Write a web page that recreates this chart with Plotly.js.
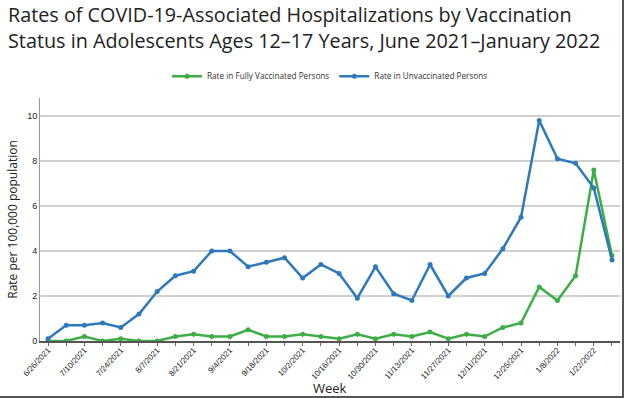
<!DOCTYPE html>
<html><head><meta charset="utf-8">
<script src="https://cdn.plot.ly/plotly-3.0.1.min.js"></script>
<style>
html,body{margin:0;padding:0;background:#fff;}
#wrap{position:relative;width:624px;height:398px;box-sizing:border-box;border-right:2px solid #555;border-bottom:2px solid #555;overflow:hidden;}
#chart{width:622px;height:396px;}
</style></head>
<body><div id="wrap"><div id="chart"></div></div>
<script>
const weeks = ['2021-06-26','2021-07-03','2021-07-10','2021-07-17','2021-07-24','2021-07-31','2021-08-07','2021-08-14','2021-08-21','2021-08-28','2021-09-04','2021-09-11','2021-09-18','2021-09-25','2021-10-02','2021-10-09','2021-10-16','2021-10-23','2021-10-30','2021-11-06','2021-11-13','2021-11-20','2021-11-27','2021-12-04','2021-12-11','2021-12-18','2021-12-25','2022-01-01','2022-01-08','2022-01-15','2022-01-22','2022-01-29'];
const vaccinated = [0,0,0.2,0,0.1,0,0,0.2,0.3,0.2,0.2,0.5,0.2,0.2,0.3,0.2,0.1,0.3,0.1,0.3,0.2,0.4,0.1,0.3,0.2,0.6,0.8,2.4,1.8,2.9,7.6,3.8];
const unvaccinated = [0.1,0.7,0.7,0.8,0.6,1.2,2.2,2.9,3.1,4.0,4.0,3.3,3.5,3.7,2.8,3.4,3.0,1.9,3.3,2.1,1.8,3.4,2.0,2.8,3.0,4.1,5.5,9.8,8.1,7.9,6.8,3.6];
const seriesNames = ['Rate in Fully Vaccinated Persons','Rate in Unvaccinated Persons'];
const yTicks = [0,2,4,6,8,10];

const green = '#3DAE45', blue = '#2D79BC';
const traces = [
  {x: weeks, y: vaccinated, name: seriesNames[0], type:'scatter', mode:'lines+markers',
   line:{color:green,width:2.5}, marker:{color:green,size:5}},
  {x: weeks, y: unvaccinated, name: seriesNames[1], type:'scatter', mode:'lines+markers',
   line:{color:blue,width:2.5}, marker:{color:blue,size:5}}
];
const DAY = 86400000;
const layout = {
  width:622, height:396,
  margin:{l:40,r:2,t:98,b:55},
  paper_bgcolor:'#fff', plot_bgcolor:'#fff',
  title:{text:'Rates of COVID-19-Associated Hospitalizations by Vaccination<br>Status in Adolescents Ages 12–17 Years, June 2021–January 2022',
    x:8/622, xanchor:'left', xref:'container', y:1-22/396, yanchor:'top', yref:'container',
    font:{family:'Open Sans',size:19.8,color:'#222'}},
  showlegend:true,
  legend:{orientation:'h', x:0.5, xanchor:'center', y:1.09, yanchor:'middle',
    font:{family:'Open Sans',size:8.2,color:'#333'}, tracegroupgap:0},
  xaxis:{type:'date', range:['2021-06-22 22:00','2022-02-01 02:00'],
    tick0:'2021-06-26', dtick:14*DAY, tickformat:'%-m/%-d/%Y', tickangle:-47,
    tickfont:{family:'Arial',size:8,color:'#222'}, ticklabelstandoff:-3,
    ticks:'outside', ticklen:3, tickcolor:'#666',
    minor:{dtick:7*DAY, tick0:'2021-06-26', ticks:'outside', ticklen:3, tickcolor:'#666'},
    showline:true, linecolor:'#555', linewidth:1.5, showgrid:false, zeroline:false},
  yaxis:{range:[0,10.8], tickvals:yTicks, ticktext:yTicks.map(String),
    tickfont:{family:'Arial',size:9,color:'#222'},
    showline:true, linecolor:'#999', linewidth:1, showgrid:true, gridcolor:'#d0d0d0', gridwidth:1.5,
    zeroline:false, ticks:'', ticklen:0,
    title:{text:'Rate per 100,000 population', font:{family:'Open Sans',size:12,color:'#222'}, standoff:6}},
  annotations:[{text:'Week', xref:'paper', yref:'paper', x:0.5, y:0, yshift:-47,
    xanchor:'center', yanchor:'middle', showarrow:false,
    font:{family:'Open Sans',size:13,color:'#222'}}]
};
Plotly.newPlot('chart', traces, layout, {displayModeBar:false, staticPlot:true});
</script></body></html>
